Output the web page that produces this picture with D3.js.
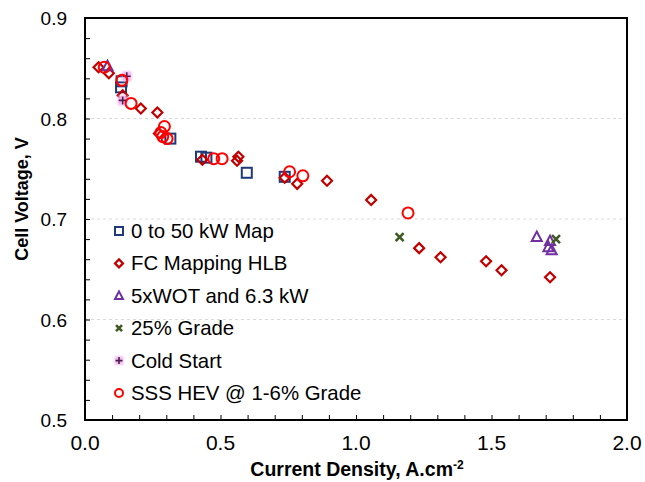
<!DOCTYPE html>
<html>
<head>
<meta charset="utf-8">
<script src="https://cdn.jsdelivr.net/npm/d3@7"></script>
<style>
  html, body { margin: 0; padding: 0; background: #fff; }
  svg { display: block; font-family: "Liberation Sans", Arial, sans-serif; }
</style>
</head>
<body>
<svg id="chart" width="645" height="482"></svg>
<script>
// Polarization data: current density (A/cm2) vs. cell voltage (V)
const seriesNames = ["0 to 50 kW Map", "FC Mapping HLB", "5xWOT and 6.3 kW", "25% Grade", "Cold Start", "SSS HEV @ 1-6% Grade"];

const mapX = [0.135, 0.133, 0.315, 0.428, 0.448, 0.597, 0.737];
const mapY = [0.837, 0.831, 0.780, 0.762, 0.761, 0.746, 0.742];

const hlbX = [0.050, 0.088, 0.139, 0.206, 0.267, 0.273, 0.433, 0.566, 0.561, 0.737, 0.783, 0.893, 1.056, 1.233, 1.312, 1.480, 1.537, 1.716];
const hlbY = [0.851, 0.845, 0.823, 0.810, 0.806, 0.785, 0.759, 0.762, 0.758, 0.741, 0.735, 0.738, 0.719, 0.671, 0.662, 0.658, 0.649, 0.642];

const wotX = [0.083, 1.667, 1.716, 1.710, 1.722];
const wotY = [0.852, 0.682, 0.678, 0.672, 0.669];

const gradeX = [1.161, 1.738];
const gradeY = [0.682, 0.680];

const coldX = [0.154, 0.139];
const coldY = [0.842, 0.818];

const sssX = [0.071, 0.136, 0.170, 0.293, 0.280, 0.287, 0.303, 0.475, 0.506, 0.755, 0.804, 1.192];
const sssY = [0.851, 0.838, 0.815, 0.792, 0.786, 0.782, 0.780, 0.760, 0.760, 0.747, 0.743, 0.706];

const xTicks = [0.0, 0.5, 1.0, 1.5, 2.0];
const yTicks = [0.5, 0.6, 0.7, 0.8, 0.9];

const svg = d3.select("#chart");
const box = { left: 85, right: 627, top: 18, bottom: 420 };

const x = d3.scaleLinear().domain([0, 2]).range([box.left, box.right]);
const y = d3.scaleLinear().domain([0.5, 0.9]).range([box.bottom, box.top]);

// defs: soft halo used by the cold-start markers
const defs = svg.append("defs");
defs.append("filter").attr("id", "soft")
  .attr("x", "-50%").attr("y", "-50%").attr("width", "200%").attr("height", "200%")
  .append("feGaussianBlur").attr("stdDeviation", 1.2);

// horizontal gridlines
svg.append("g").selectAll("line")
  .data(yTicks.filter(d => d > 0.5 && d < 0.9))
  .join("line")
  .attr("x1", box.left).attr("x2", box.right)
  .attr("y1", d => y(d)).attr("y2", d => y(d))
  .attr("stroke", "#d9d9d9").attr("stroke-width", 1).attr("stroke-dasharray", "3,3");

// inward tick marks via d3 axes
const yAxis = d3.axisRight(y).tickValues(d3.range(0.5, 0.9001, 0.02)).tickSize(5).tickFormat("");
svg.append("g").attr("transform", `translate(${box.left},0)`).call(yAxis)
  .call(g => g.select(".domain").remove())
  .call(g => g.selectAll("line").attr("stroke", "#000").attr("stroke-width", 1));

const xAxis = d3.axisTop(x).tickValues(d3.range(0, 2.0001, 0.1)).tickSize(5).tickFormat("");
svg.append("g").attr("transform", `translate(0,${box.bottom})`).call(xAxis)
  .call(g => g.select(".domain").remove())
  .call(g => g.selectAll("line").attr("stroke", "#000").attr("stroke-width", 1));

// tick labels
svg.append("g").selectAll("text").data(yTicks).join("text")
  .attr("x", 67).attr("y", d => y(d) + 7)
  .attr("text-anchor", "end").attr("font-size", 19).attr("fill", "#000")
  .text(d => d.toFixed(1));

svg.append("g").selectAll("text").data(xTicks).join("text")
  .attr("x", d => x(d)).attr("y", 450)
  .attr("text-anchor", "middle").attr("font-size", 21).attr("fill", "#000")
  .text(d => d.toFixed(1));

// axis titles
svg.append("text")
  .attr("transform", `translate(28,199) rotate(-90)`)
  .attr("text-anchor", "middle").attr("font-size", 18).attr("font-weight", "bold")
  .text("Cell Voltage, V");

const xt = svg.append("text").attr("x", 357).attr("y", 476)
  .attr("text-anchor", "middle").attr("font-size", 19.5).attr("font-weight", "bold");
xt.append("tspan").text("Current Density, A.cm");
xt.append("tspan").attr("dy", -7).attr("font-size", 12).text("-2");

// marker drawing helpers
const markers = {
  square: (g, s, c) => g.append("rect").attr("x", -s/2).attr("y", -s/2).attr("width", s).attr("height", s)
    .attr("fill", "none").attr("stroke", c).attr("stroke-width", 2),
  diamond: (g, s, c) => g.append("path").attr("d", `M0,${-s/2}L${s/2},0L0,${s/2}L${-s/2},0Z`)
    .attr("fill", "none").attr("stroke", c).attr("stroke-width", 2.2),
  triangle: (g, s, c) => g.append("path").attr("d", `M0,${-s*0.55}L${s*0.5},${s*0.4}L${-s*0.5},${s*0.4}Z`)
    .attr("fill", "none").attr("stroke", c).attr("stroke-width", 2),
  cross: (g, s, c) => g.append("path").attr("d", `M${-s/2},${-s/2}L${s/2},${s/2}M${s/2},${-s/2}L${-s/2},${s/2}`)
    .attr("fill", "none").attr("stroke", c).attr("stroke-width", 2.6),
  plus: (g, s, c) => {
    g.append("rect").attr("x", -s*0.6).attr("y", -s*0.6).attr("width", s*1.2).attr("height", s*1.2)
      .attr("fill", "#f3b6ee").attr("filter", "url(#soft)");
    g.append("path").attr("d", `M${-s/2},0L${s/2},0M0,${-s/2}L0,${s/2}`)
      .attr("fill", "none").attr("stroke", c).attr("stroke-width", 1.6);
  },
  circle: (g, s, c) => g.append("circle").attr("r", s/2)
    .attr("fill", "none").attr("stroke", c).attr("stroke-width", 2)
};

const series = [
  { name: seriesNames[0], xs: mapX,   ys: mapY,   shape: "square",   color: "#1f3a78", size: 10, legend: 8 },
  { name: seriesNames[1], xs: hlbX,   ys: hlbY,   shape: "diamond",  color: "#c00000", size: 10, legend: 8 },
  { name: seriesNames[2], xs: wotX,   ys: wotY,   shape: "triangle", color: "#7030a0", size: 10, legend: 8 },
  { name: seriesNames[3], xs: gradeX, ys: gradeY, shape: "cross",    color: "#3f5a23", size: 8,  legend: 6 },
  { name: seriesNames[4], xs: coldX,  ys: coldY,  shape: "plus",     color: "#4b2050", size: 8,  legend: 7 },
  { name: seriesNames[5], xs: sssX,   ys: sssY,   shape: "circle",   color: "#ff0000", size: 11, legend: 8 }
];

// data points
const plot = svg.append("g");
series.forEach(s => {
  s.xs.forEach((xv, i) => {
    const g = plot.append("g").attr("transform", `translate(${x(xv)},${y(s.ys[i])})`);
    markers[s.shape](g, s.size, s.color);
  });
});

// legend
const legend = svg.append("g");
series.forEach((s, i) => {
  const ly = 231 + i * 32.4;
  const g = legend.append("g").attr("transform", `translate(119,${ly})`);
  markers[s.shape](g, s.legend, s.color);
  legend.append("text").attr("x", 131).attr("y", ly + 7)
    .attr("font-size", 20.4).attr("fill", "#000").text(s.name);
});

// plot frame
svg.append("rect").attr("x", box.left).attr("y", box.top)
  .attr("width", box.right - box.left).attr("height", box.bottom - box.top)
  .attr("fill", "none").attr("stroke", "#000").attr("stroke-width", 2);
</script>
</body>
</html>
